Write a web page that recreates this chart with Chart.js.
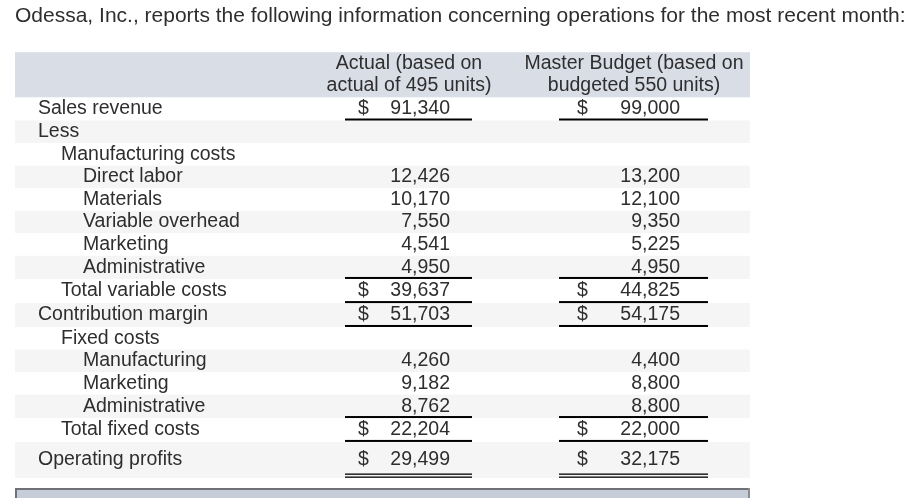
<!DOCTYPE html>
<html>
<head>
<meta charset="utf-8">
<script src="https://cdn.jsdelivr.net/npm/chart.js@4/dist/chart.umd.min.js"></script>
<style>
	body { margin: 0; background: #fff; }
	canvas { display: block; }
</style>
</head>
<body>
<canvas id="Chart" width="910" height="501"></canvas>
<script>
// データ
let titleText = 'Odessa, Inc., reports the following information concerning operations for the most recent month:';
let actualHeader = ['Actual (based on', 'actual of 495 units)'];
let budgetHeader = ['Master Budget (based on', 'budgeted 550 units)'];
let rowLabels = ['Sales revenue', 'Less', 'Manufacturing costs', 'Direct labor', 'Materials',
	'Variable overhead', 'Marketing', 'Administrative', 'Total variable costs', 'Contribution margin',
	'Fixed costs', 'Manufacturing', 'Marketing', 'Administrative', 'Total fixed costs', 'Operating profits'];
let actualValues = [91340, null, null, 12426, 10170, 7550, 4541, 4950, 39637, 51703, null, 4260, 9182, 8762, 22204, 29499];
let budgetValues = [99000, null, null, 13200, 12100, 9350, 5225, 4950, 44825, 54175, null, 4400, 8800, 8800, 22000, 32175];
let dollarRows = [0, 8, 9, 14, 15];

// 表示の設定（インデント、行の高さ、罫線、列の位置）
let rowIndent = [0, 0, 1, 2, 2, 2, 2, 2, 1, 0, 1, 2, 2, 2, 1, 0];
let rowHeight = [1.03, 1, 1, 1, 1, 1, 1, 1.03, 1.07, 1.06, 1, 1, 1, 1.04, 1.06, 1.6];
let ruleBelow = { 0: 1, 7: 1, 8: 1, 9: 1, 13: 1, 14: 1, 15: 2 };
let indentX = [23, 46, 68];
let tableWidth = 735;
let columns = [
	{ right: 435, dollar: 343, lineL: 330, lineR: 457, head: 394 },
	{ right: 665, dollar: 562, lineL: 544, lineR: 693, head: 619 },
];
let fontText = '19.5px "Liberation Sans", Arial, sans-serif';
let textColor = '#2e2e2e';

function rowStart(i) {
	let s = 0;
	for (let k = 0; k < i; k++) s += rowHeight[k];
	return s;
}
function rowEnd(i) {
	return rowStart(i) + rowHeight[i];
}
function rowMid(i) {
	return rowStart(i) + rowHeight[i] / 2;
}
function points(values, col) {
	let pts = [];
	values.forEach((v, i) => {
		if (v !== null) pts.push({ x: col.right, y: rowMid(i), v: v, row: i });
	});
	return pts;
}

let tablePlugin = {
	id: 'table',
	beforeDatasetsDraw(chart) {
		let ctx = chart.ctx, x = chart.scales.x, y = chart.scales.y;
		let left = x.getPixelForValue(0), right = x.getPixelForValue(tableWidth);
		ctx.save();
		// 見出しの背景
		ctx.fillStyle = '#d9dde6';
		let top = y.getPixelForValue(-2), hb = y.getPixelForValue(0);
		ctx.fillRect(left, top, right - left, hb - top);
		// 縞模様
		ctx.fillStyle = '#f5f5f5';
		rowLabels.forEach((l, i) => {
			if (i % 2 === 1) {
				let t = y.getPixelForValue(rowStart(i)), b = y.getPixelForValue(rowEnd(i));
				ctx.fillRect(left, t, right - left, b - t);
			}
		});
		ctx.restore();
	},
	afterDatasetsDraw(chart) {
		let ctx = chart.ctx, x = chart.scales.x, y = chart.scales.y;
		ctx.save();
		ctx.font = fontText;
		ctx.fillStyle = textColor;
		ctx.textBaseline = 'middle';
		// 見出し
		ctx.textAlign = 'center';
		[actualHeader, budgetHeader].forEach((lines, c) => {
			lines.forEach((t, k) => {
				ctx.fillText(t, x.getPixelForValue(columns[c].head), y.getPixelForValue(-2 + k + 0.5));
			});
		});
		// 行ラベル
		ctx.textAlign = 'left';
		rowLabels.forEach((l, i) => {
			ctx.fillText(l, x.getPixelForValue(indentX[rowIndent[i]]), y.getPixelForValue(rowMid(i)));
		});
		// 数値
		chart.data.datasets.forEach((ds, d) => {
			let meta = chart.getDatasetMeta(d);
			let col = columns[d];
			meta.data.forEach((el, j) => {
				let p = ds.data[j];
				ctx.textAlign = 'right';
				ctx.fillText(p.v.toLocaleString('en-US'), el.x, el.y);
				if (dollarRows.includes(p.row)) {
					ctx.textAlign = 'left';
					ctx.fillText('$', x.getPixelForValue(col.dollar), el.y);
				}
			});
		});
		// 罫線
		ctx.fillStyle = '#000';
		Object.keys(ruleBelow).forEach(k => {
			let i = Number(k);
			let yb = y.getPixelForValue(rowEnd(i));
			columns.forEach(col => {
				let l = x.getPixelForValue(col.lineL), r = x.getPixelForValue(col.lineR);
				if (ruleBelow[k] === 1) {
					ctx.fillRect(l, yb - 2, r - l, 2);
				} else {
					ctx.fillRect(l, yb - 4.5, r - l, 1.3);
					ctx.fillRect(l, yb - 1.5, r - l, 1.3);
				}
			});
		});
		// 下の枠
		let left = x.getPixelForValue(0), right = x.getPixelForValue(tableWidth);
		let bt = chart.chartArea.bottom + 10;
		ctx.fillStyle = '#c6ccd8';
		ctx.fillRect(left, bt, right - left, 10);
		ctx.fillStyle = '#6f7176';
		ctx.fillRect(left, bt, right - left, 2);
		ctx.fillRect(left, bt, 2, 10);
		ctx.fillStyle = '#8a8c90';
		ctx.fillRect(right - 2, bt, 2, 10);
		ctx.restore();
	}
};

let tableCtx = document.getElementById('Chart');
let tableConfig = {
	type: 'scatter',
	data: {
		datasets: [{
			label: 'Actual',
			data: points(actualValues, columns[0]),
			pointRadius: 0,
		}, {
			label: 'Master Budget',
			data: points(budgetValues, columns[1]),
			pointRadius: 0,
		}],
	},
	options: {
		responsive: false,
		animation: false,
		events: [],
		devicePixelRatio: 1,
		layout: {
			padding: { left: 15, right: 0, top: 0, bottom: 23 },
		},
		plugins: {
			legend: { display: false },
			tooltip: { enabled: false },
			title: {
				display: true,
				text: titleText,
				align: 'start',
				color: textColor,
				font: { family: '"Liberation Sans", Arial, sans-serif', size: 21, weight: 'normal' },
				padding: { top: 4, bottom: 23 },
			},
		},
		scales: {
			x: { type: 'linear', display: false, min: 0, max: 895 },
			y: { type: 'linear', display: false, reverse: true, min: -2, max: rowStart(rowLabels.length) },
		},
	},
	plugins: [tablePlugin],
};
let tableChart = new Chart(tableCtx, tableConfig);
</script>
</body>
</html>
